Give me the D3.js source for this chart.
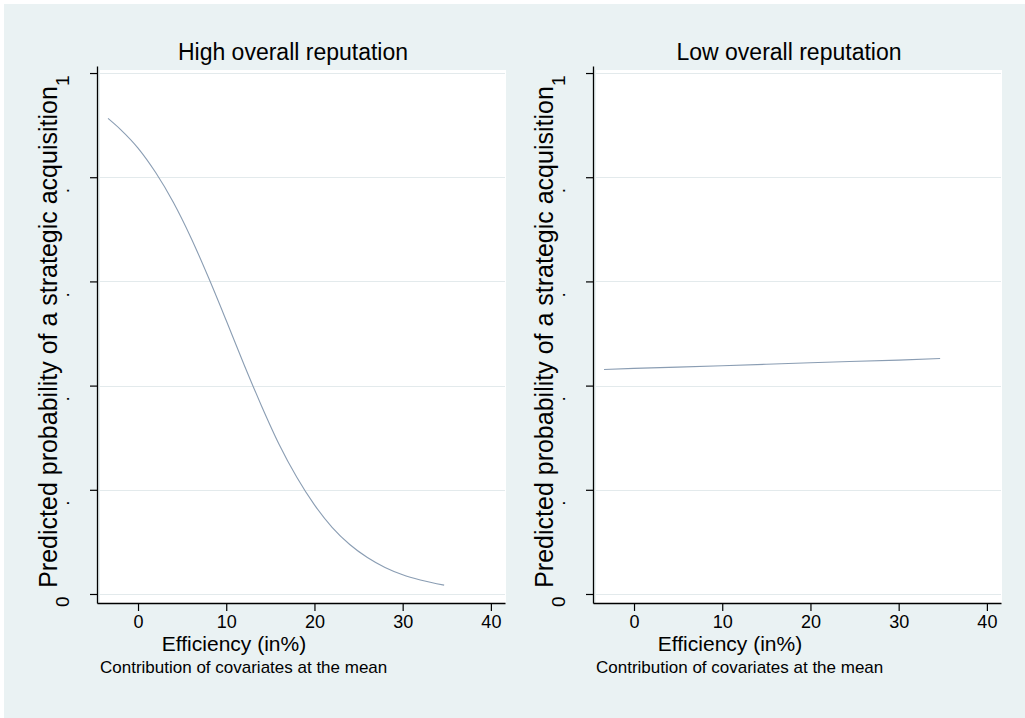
<!DOCTYPE html>
<html>
<head>
<meta charset="utf-8">
<script src="https://cdn.jsdelivr.net/npm/d3@7"></script>
<style>
    body { margin: 0; background: #ffffff; }
    text { font-family: "Liberation Sans", Arial, sans-serif; fill: #000000; }
</style>
</head>
<body>
<div id="chart"></div>
<script>
// values
var panelTitles = ["High overall reputation", "Low overall reputation"];
var xTicks = [0, 10, 20, 30, 40];
var yTicks = [0, 0.2, 0.4, 0.6, 0.8, 1];
var yTickLabels = ["0", ".", ".", ".", ".", "1"];

var highX = [-3.4, -2, 0, 2, 4, 6, 8, 10, 12, 14, 16, 18, 20, 22, 24, 26, 28, 30, 32, 34.7];
var highP = [0.913, 0.892, 0.856, 0.809, 0.752, 0.684, 0.607, 0.525, 0.441, 0.361, 0.287, 0.224, 0.171, 0.128, 0.095, 0.070, 0.051, 0.037, 0.027, 0.017];

var lowX = [-3.4, 0, 10, 20, 30, 34.7];
var lowP = [0.431, 0.433, 0.438, 0.444, 0.449, 0.452];

var xTitle = "Efficiency (in%)";
var yTitle = "Predicted probability of a strategic acquisition";
var note = "Contribution of covariates at the mean";

var width = 1025, height = 718;

var svg = d3.select("#chart").append("svg")
    .attr("width", width)
    .attr("height", height);

// graph region
svg.append("rect")
    .attr("x", 4)
    .attr("y", 4)
    .attr("width", width - 4)
    .attr("height", height - 4)
    .attr("fill", "#eaf2f3");

var drawPanel = function(offset, title, xs, ps) {
    var g = svg.append("g").attr("transform", "translate(" + offset + ",0)");

    var x = d3.scaleLinear().domain([-4.65, 41.6]).range([97, 505]);
    var y = d3.scaleLinear().domain([-0.0173, 1.0135]).range([603, 66]);

    // plot region
    g.append("rect")
        .attr("x", 100)
        .attr("y", 70)
        .attr("width", 406)
        .attr("height", 533)
        .attr("fill", "#ffffff");

    // grid lines
    g.selectAll(".grid")
        .data(yTicks)
        .enter()
        .append("line")
        .attr("class", "grid")
        .attr("x1", 100)
        .attr("x2", 505)
        .attr("y1", function(d) { return Math.round(y(d)) + 0.5; })
        .attr("y2", function(d) { return Math.round(y(d)) + 0.5; })
        .attr("stroke", "#e3eaec")
        .attr("stroke-width", 1);

    // the fitted curve
    var line = d3.line()
        .x(function(d, i) { return x(xs[i]); })
        .y(function(d) { return y(d); })
        .curve(d3.curveMonotoneX);

    g.append("path")
        .datum(ps)
        .attr("d", line)
        .attr("fill", "none")
        .attr("stroke", "#8a9db3")
        .attr("stroke-width", 1.1);

    // x axis
    var xAxis = g.append("g")
        .attr("transform", "translate(0,603)")
        .call(d3.axisBottom(x).tickValues(xTicks).tickSize(8).tickPadding(4).tickSizeOuter(0));
    xAxis.select(".domain").attr("stroke", "#000").attr("stroke-width", 1.3);
    xAxis.selectAll(".tick line").attr("stroke", "#000").attr("stroke-width", 1.2);
    xAxis.selectAll(".tick text")
        .attr("font-size", 18)
        .attr("font-family", "Liberation Sans, Arial, sans-serif")
        .attr("fill", "#000");

    // y axis, labels drawn by hand since they are rotated
    var yAxis = g.append("g")
        .attr("transform", "translate(97,0)")
        .call(d3.axisLeft(y).tickValues(yTicks).tickSize(7).tickFormat("").tickSizeOuter(0));
    yAxis.select(".domain").attr("stroke", "#000").attr("stroke-width", 1.3);
    yAxis.selectAll(".tick line").attr("stroke", "#000").attr("stroke-width", 1.2);

    g.selectAll(".ylab")
        .data(yTicks)
        .enter()
        .append("text")
        .attr("class", "ylab")
        .attr("font-size", 19)
        .attr("text-anchor", "start")
        .attr("transform", function(d, i) {
            var shift = yTickLabels[i] == "." ? 16 : 13;
            return "translate(69," + (y(d) + shift) + ") rotate(-90)";
        })
        .text(function(d, i) { return yTickLabels[i]; });

    // titles
    g.append("text")
        .attr("x", 293)
        .attr("y", 60)
        .attr("text-anchor", "middle")
        .attr("font-size", 23)
        .text(title);

    g.append("text")
        .attr("transform", "translate(57,337) rotate(-90)")
        .attr("text-anchor", "middle")
        .attr("font-size", 25)
        .text(yTitle);

    g.append("text")
        .attr("x", 234)
        .attr("y", 651)
        .attr("text-anchor", "middle")
        .attr("font-size", 21)
        .text(xTitle);

    g.append("text")
        .attr("x", 100)
        .attr("y", 673)
        .attr("font-size", 17)
        .text(note);
}

drawPanel(0, panelTitles[0], highX, highP);
drawPanel(496, panelTitles[1], lowX, lowP);
</script>
</body>
</html>
